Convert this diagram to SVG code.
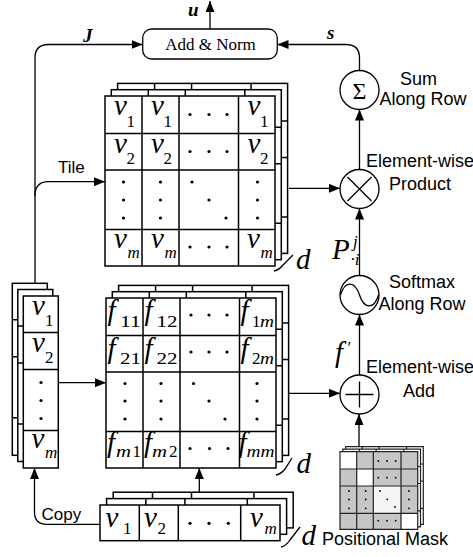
<svg xmlns="http://www.w3.org/2000/svg" xmlns:xlink="http://www.w3.org/1999/xlink" width="473" height="557" viewBox="0 0 473 557">
<style>
.ln{fill:none;stroke:#000;stroke-width:1.3}
.gr{fill:#fff;stroke:#000;stroke-width:1.5}
.gl{stroke:#000;stroke-width:1.5}
.ml{stroke:#222;stroke-width:1.2}
.lab{font-family:"Liberation Sans",Arial,sans-serif;font-size:18px;text-anchor:middle;fill:#000}
.lab2{font-family:"Liberation Sans",Arial,sans-serif;font-size:17px;fill:#000}
.mi{font-family:"Liberation Serif","Times New Roman",serif;font-style:italic;font-size:29px}
.sb{font-family:"Liberation Serif","Times New Roman",serif;font-size:17px}
.sbi{font-family:"Liberation Serif","Times New Roman",serif;font-style:italic;font-size:17px}
.bi{font-family:"Liberation Serif","Times New Roman",serif;font-style:italic;font-weight:bold;font-size:19px}
.dt{fill:#000}
.cir{fill:#fff;stroke:#000;stroke-width:1.3}
</style>
<defs>
<marker id="ah" markerUnits="userSpaceOnUse" markerWidth="11" markerHeight="9" refX="11" refY="4.5" orient="auto">
<path d="M0,0 L11,4.5 L0,9 z" fill="#000"/>
</marker>
<g id="gM">
<rect class="gr" x="0" y="0" width="170" height="170"/>
<path class="gl" d="M37,0V170M74,0V170M133.5,0V170M0,37.5H170M0,74H170M0,133.5H170"/>
</g>
<g id="gV">
<rect class="gr" x="0" y="0" width="35" height="172"/>
<path class="gl" d="M0,36.5H35M0,73.5H35M0,134.5H35"/>
</g>
<g id="gH">
<rect class="gr" x="0" y="0" width="180" height="35.7"/>
<path class="gl" d="M39.3,0V35.7M78.3,0V35.7M140.7,0V35.7"/>
</g>
<g id="gK">
<path class="ml" fill="none" d="M0,0H77.7V77.6H0zM16.7,0V77.6M33.3,0V77.6M61,0V77.6M0,17.3H77.7M0,34.3H77.7M0,61.6H77.7"/>
</g>
</defs>

<g id="connectors">
<path class="ln" d="M35,283.3 V58 Q35,44.5 48.5,44.5 H142.5" marker-end="url(#ah)"/>
<path class="ln" d="M35,196 Q35,181.7 48.5,181.7 H105" marker-end="url(#ah)"/>
<path class="ln" d="M210,29 V1" marker-end="url(#ah)"/>
<path class="ln" d="M359.5,70.5 V58 Q359.5,44.5 346,44.5 H277.5" marker-end="url(#ah)"/>
<path class="ln" d="M359.5,169.5 V109.5" marker-end="url(#ah)"/>
<path class="ln" d="M359.5,275.5 V208.5" marker-end="url(#ah)"/>
<path class="ln" d="M359.5,375 V314.5" marker-end="url(#ah)"/>
<path class="ln" d="M359,446.7 V414" marker-end="url(#ah)"/>
<path class="ln" d="M289,188.3 H340" marker-end="url(#ah)"/>
<path class="ln" d="M289,393.3 H340" marker-end="url(#ah)"/>
<path class="ln" d="M58.3,382.7 H106" marker-end="url(#ah)"/>
<path class="ln" d="M199.3,492.2 V468" marker-end="url(#ah)"/>
<path class="ln" d="M100,524.3 H47 Q34.5,524.3 34.5,512 V468" marker-end="url(#ah)"/>
</g>

<g id="addnorm">
<rect x="142.7" y="29" width="134.6" height="30" rx="9" fill="#fff" stroke="#000" stroke-width="1.3"/>
<text x="210.5" y="50" font-family="'Liberation Serif','Times New Roman',serif" font-size="17" text-anchor="middle">Add &amp; Norm</text>
</g>
<g id="vlabels">
<text class="bi" x="188" y="16">u</text>
<text class="bi" x="83" y="42">J</text>
<text class="bi" x="327" y="39">s</text>
</g>

<g id="sum">
<circle class="cir" cx="359.5" cy="90" r="19.5"/>
<text x="359.5" y="98.5" font-family="'Liberation Serif','Times New Roman',serif" font-size="24" text-anchor="middle">Σ</text>
<text class="lab" x="418.5" y="85">Sum</text>
<text class="lab" x="423" y="105">Along Row</text>
</g>

<g id="product">
<circle class="cir" cx="359.5" cy="189" r="19.5"/>
<path class="ln" d="M347.5,177 L371.5,201 M371.5,177 L347.5,201"/>
<text class="lab" x="420" y="167">Element-wise</text>
<text class="lab" x="420" y="190">Product</text>
</g>

<g id="softmax">
<circle class="cir" cx="359.5" cy="295" r="19.5"/>
<path class="ln" d="M340.5,295 C345,280 355,281 359.5,295 C364,309 374,310 378.5,295"/>
<text class="lab" x="422" y="288">Softmax</text>
<text class="lab" x="422" y="310">Along Row</text>
</g>

<g id="add">
<circle class="cir" cx="359.5" cy="394.5" r="19.5"/>
<path class="ln" d="M345.5,394.5 H373.5 M359.5,381.5 V407.5"/>
<text class="lab" x="420" y="373.3">Element-wise</text>
<text class="lab" x="419" y="396.7">Add</text>
</g>

<g id="plabel">
<text class="mi" x="332" y="258.5" font-size="23">P</text>
<text class="sbi" x="353" y="247" font-size="11">j</text>
<text class="sbi" x="350.5" y="265" font-size="11">·i</text>
</g>
<g id="fprime">
<text class="mi" x="335" y="362" font-size="24">f</text>
<text class="sb" x="347.5" y="353" font-size="17">′</text>
</g>

<g id="tiled">
<use xlink:href="#gM" x="117.6" y="83.4"/>
<use xlink:href="#gM" x="111.3" y="89.7"/>
<use xlink:href="#gM" x="105" y="96"/>
<text class="mi" x="114" y="115">v</text><text class="sb" x="126.5" y="126.5">1</text>
<text class="mi" x="151" y="115">v</text><text class="sb" x="163.5" y="126.5">1</text>
<text class="mi" x="247.5" y="115">v</text><text class="sb" x="260" y="126.5">1</text>
<text class="mi" x="114" y="152.5">v</text><text class="sb" x="126.5" y="164">2</text>
<text class="mi" x="151" y="152.5">v</text><text class="sb" x="163.5" y="164">2</text>
<text class="mi" x="247.5" y="152.5">v</text><text class="sb" x="260" y="164">2</text>
<text class="mi" x="114" y="248">v</text><text class="sbi" x="127.5" y="257.5">m</text>
<text class="mi" x="151" y="248">v</text><text class="sbi" x="164.5" y="257.5">m</text>
<text class="mi" x="247" y="248">v</text><text class="sbi" x="260.5" y="257.5">m</text>
<g class="dt">
<circle cx="190" cy="114.5" r="1.6"/><circle cx="209" cy="114.5" r="1.6"/><circle cx="227" cy="114.5" r="1.6"/>
<circle cx="190" cy="151.5" r="1.6"/><circle cx="209" cy="151.5" r="1.6"/><circle cx="227" cy="151.5" r="1.6"/>
<circle cx="190" cy="247" r="1.6"/><circle cx="209" cy="247" r="1.6"/><circle cx="227" cy="247" r="1.6"/>
<circle cx="123.5" cy="182" r="1.6"/><circle cx="123.5" cy="200" r="1.6"/><circle cx="123.5" cy="218" r="1.6"/>
<circle cx="160.5" cy="182" r="1.6"/><circle cx="160.5" cy="200" r="1.6"/><circle cx="160.5" cy="218" r="1.6"/>
<circle cx="257.5" cy="182" r="1.6"/><circle cx="257.5" cy="200" r="1.6"/><circle cx="257.5" cy="218" r="1.6"/>
<circle cx="192" cy="182" r="1.6"/><circle cx="209" cy="200" r="1.6"/><circle cx="226" cy="218" r="1.6"/>
</g>
<path class="ln" d="M274,271 Q279,270 283,265 L293,255"/>
<text class="mi" x="296" y="269" font-size="22">d</text>
</g>

<g id="fmatrix">
<use xlink:href="#gM" x="118.6" y="285.4"/>
<use xlink:href="#gM" x="112.3" y="291.7"/>
<use xlink:href="#gM" x="106" y="298"/>
<text class="mi" x="107.5" y="320" font-size="28">f</text><text class="sb" x="120" y="326.5" textLength="21" lengthAdjust="spacingAndGlyphs">11</text>
<text class="mi" x="144.5" y="320" font-size="28">f</text><text class="sb" x="156.5" y="326.5" textLength="21" lengthAdjust="spacingAndGlyphs">12</text>
<text class="mi" x="240.5" y="320" font-size="28">f</text><text class="sb" x="252" y="326.5">1</text><text class="sbi" x="260" y="326.5" textLength="14" lengthAdjust="spacingAndGlyphs">m</text>
<text class="mi" x="107.5" y="357.5" font-size="28">f</text><text class="sb" x="120" y="364" textLength="21" lengthAdjust="spacingAndGlyphs">21</text>
<text class="mi" x="144.5" y="357.5" font-size="28">f</text><text class="sb" x="156.5" y="364" textLength="21" lengthAdjust="spacingAndGlyphs">22</text>
<text class="mi" x="240.5" y="357.5" font-size="28">f</text><text class="sb" x="252" y="364">2</text><text class="sbi" x="260" y="364" textLength="14" lengthAdjust="spacingAndGlyphs">m</text>
<text class="mi" x="107" y="451.5" font-size="28">f</text><text class="sbi" x="116" y="457" textLength="15" lengthAdjust="spacingAndGlyphs">m</text><text class="sb" x="132.5" y="457">1</text>
<text class="mi" x="144" y="451.5" font-size="28">f</text><text class="sbi" x="152" y="457" textLength="15" lengthAdjust="spacingAndGlyphs">m</text><text class="sb" x="169" y="457">2</text>
<text class="mi" x="238.5" y="451.5" font-size="28">f</text><text class="sbi" x="246.5" y="457" textLength="28" lengthAdjust="spacingAndGlyphs">mm</text>
<g class="dt">
<circle cx="191" cy="315" r="1.6"/><circle cx="209" cy="315" r="1.6"/><circle cx="227" cy="315" r="1.6"/>
<circle cx="191" cy="352" r="1.6"/><circle cx="209" cy="352" r="1.6"/><circle cx="227" cy="352" r="1.6"/>
<circle cx="190" cy="448.5" r="1.6"/><circle cx="209.5" cy="448.5" r="1.6"/><circle cx="228" cy="448.5" r="1.6"/>
<circle cx="125" cy="383.5" r="1.6"/><circle cx="125" cy="401" r="1.6"/><circle cx="125" cy="419" r="1.6"/>
<circle cx="161" cy="383.5" r="1.6"/><circle cx="161" cy="401" r="1.6"/><circle cx="161" cy="419" r="1.6"/>
<circle cx="257" cy="383.5" r="1.6"/><circle cx="257" cy="401" r="1.6"/><circle cx="257" cy="419" r="1.6"/>
<circle cx="193.5" cy="383.5" r="1.6"/><circle cx="209" cy="401" r="1.6"/><circle cx="225" cy="419" r="1.6"/>
</g>
<path class="ln" d="M276,475 Q281,474 285,469 L292,458"/>
<text class="mi" x="296.5" y="473" font-size="22">d</text>
</g>

<g id="vcol">
<use xlink:href="#gV" x="12.3" y="283.3"/>
<use xlink:href="#gV" x="17.8" y="289.5"/>
<use xlink:href="#gV" x="23.3" y="296"/>
<text class="mi" x="32" y="315">v</text><text class="sb" x="45" y="326">1</text>
<text class="mi" x="32" y="351.5">v</text><text class="sb" x="45" y="362.5">2</text>
<text class="mi" x="31.5" y="448">v</text><text class="sbi" x="45" y="457.5">m</text>
<g class="dt">
<circle cx="41" cy="382.5" r="1.6"/><circle cx="41" cy="400.5" r="1.6"/><circle cx="41" cy="418.5" r="1.6"/>
</g>
</g>

<g id="vrow">
<use xlink:href="#gH" x="113.2" y="492.2"/>
<use xlink:href="#gH" x="106.6" y="498.6"/>
<use xlink:href="#gH" x="100" y="505"/>
<text class="mi" x="105.5" y="527.3" font-size="30">v</text><text class="sb" x="123" y="534">1</text>
<text class="mi" x="144" y="527.3" font-size="30">v</text><text class="sb" x="157.5" y="534">2</text>
<text class="mi" x="250" y="527.3" font-size="30">v</text><text class="sbi" x="264.5" y="534">m</text>
<g class="dt">
<circle cx="190" cy="523.3" r="1.6"/><circle cx="209" cy="523.3" r="1.6"/><circle cx="228.3" cy="523.3" r="1.6"/>
</g>
<path class="ln" d="M281,547 Q286,546 290,540 L300,527"/>
<text class="mi" x="301.5" y="545" font-size="22">d</text>
</g>

<g id="mask">
<rect x="345.6" y="446.7" width="77.7" height="77.6" fill="#fff"/>
<use xlink:href="#gK" x="345.6" y="446.7"/>
<rect x="342.8" y="449.2" width="77.7" height="77.6" fill="#fff"/>
<use xlink:href="#gK" x="342.8" y="449.2"/>
<rect x="340" y="451.7" width="77.7" height="77.6" fill="#c6c6c6"/>
<rect x="340" y="451.7" width="16.7" height="17.3" fill="#fff"/>
<rect x="356.7" y="469" width="16.6" height="17" fill="#fff"/>
<rect x="373.3" y="486" width="27.7" height="27.3" fill="#f4f4f4"/>
<rect x="401" y="513.3" width="16.7" height="16" fill="#fff"/>
<use xlink:href="#gK" x="340" y="451.7"/>
<g class="dt">
<circle cx="378.3" cy="461" r="0.9"/><circle cx="387" cy="461" r="0.9"/><circle cx="395.7" cy="461" r="0.9"/>
<circle cx="378.3" cy="477.7" r="0.9"/><circle cx="387" cy="477.7" r="0.9"/><circle cx="395.7" cy="477.7" r="0.9"/>
<circle cx="378.3" cy="520.7" r="0.9"/><circle cx="387" cy="520.7" r="0.9"/><circle cx="395.7" cy="520.7" r="0.9"/>
<circle cx="349" cy="491" r="0.9"/><circle cx="349" cy="499.5" r="0.9"/><circle cx="349" cy="508.3" r="0.9"/>
<circle cx="365.7" cy="491" r="0.9"/><circle cx="365.7" cy="499.5" r="0.9"/><circle cx="365.7" cy="508.3" r="0.9"/>
<circle cx="409" cy="491" r="0.9"/><circle cx="409" cy="499.5" r="0.9"/><circle cx="409" cy="508.3" r="0.9"/>
<circle cx="380" cy="491" r="0.9"/><circle cx="387.3" cy="499.3" r="0.9"/><circle cx="395" cy="507" r="0.9"/>
</g>
<text class="lab" x="385" y="545" font-size="17.5">Positional Mask</text>
</g>

<g id="sidelabels">
<text class="lab2" x="58" y="173.3">Tile</text>
<text class="lab2" x="41.5" y="520">Copy</text>
</g>
</svg>
